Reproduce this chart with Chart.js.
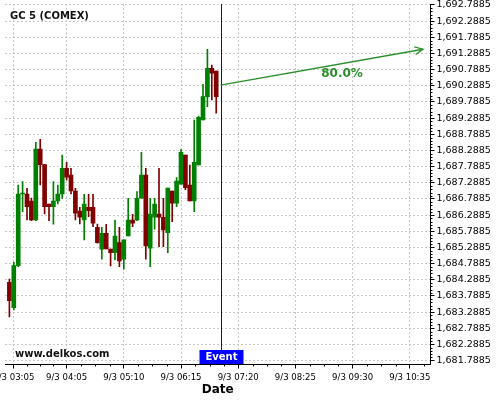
<!DOCTYPE html>
<html>
<head>
<meta charset="utf-8">
<script src="https://cdn.jsdelivr.net/npm/chart.js@4/dist/chart.umd.min.js"></script>
<style>
  html, body { margin: 0; padding: 0; background: #fff; }
</style>
</head>
<body>
<canvas id="c" width="500" height="400"></canvas>
<script>
// 5 min candles, 9/3
const times = ['03:00', '03:05', '03:10', '03:15', '03:20', '03:25', '03:30', '03:35', '03:40', '03:45',
  '03:50', '03:55', '04:00', '04:05', '04:10', '04:15', '04:20', '04:25', '04:30', '04:35',
  '04:40', '04:45', '04:50', '04:55', '05:00', '05:05', '05:10', '05:15', '05:20', '05:25',
  '05:30', '05:35', '05:40', '05:45', '05:50', '05:55', '06:00', '06:05', '06:10', '06:15',
  '06:20', '06:25', '06:30', '06:35', '06:40', '06:45', '06:50', '06:55'];
const opens = [1684.213, 1683.427, 1684.726, 1686.944, 1686.944, 1686.727, 1686.140, 1688.335, 1687.850, 1686.634,
  1686.551, 1686.727, 1686.944, 1687.738, 1687.531, 1687.036, 1686.418, 1686.140, 1686.532, 1686.532,
  1685.914, 1685.233, 1685.728, 1685.243, 1685.128, 1685.437, 1684.929, 1685.645, 1686.140, 1686.140,
  1686.811, 1687.531, 1685.264, 1686.223, 1686.325, 1686.223, 1685.747, 1687.036, 1686.656, 1687.244,
  1688.150, 1687.222, 1686.727, 1687.840, 1689.232, 1689.953, 1690.831, 1690.747];
const highs = [1684.315, 1684.832, 1687.222, 1687.324, 1687.120, 1686.820, 1688.543, 1688.635, 1687.850, 1686.634,
  1687.324, 1687.222, 1688.150, 1687.924, 1687.738, 1687.120, 1686.532, 1686.934, 1686.934, 1686.934,
  1686.016, 1685.914, 1686.007, 1685.243, 1686.140, 1685.914, 1685.525, 1686.811, 1686.316, 1687.015,
  1688.233, 1687.738, 1686.811, 1686.811, 1687.738, 1686.811, 1687.129, 1687.036, 1687.448, 1688.326,
  1688.150, 1687.840, 1689.232, 1689.350, 1690.336, 1691.418, 1690.933, 1690.747];
const lows = [1683.140, 1683.356, 1684.695, 1686.396, 1686.140, 1686.118, 1686.118, 1687.222, 1686.325, 1686.118,
  1686.007, 1686.634, 1686.810, 1687.377, 1686.944, 1686.140, 1686.016, 1685.521, 1686.241, 1685.932,
  1685.419, 1684.924, 1685.243, 1684.717, 1684.903, 1684.696, 1684.616, 1685.645, 1685.932, 1686.118,
  1686.811, 1684.924, 1684.696, 1685.852, 1685.314, 1685.314, 1685.129, 1686.087, 1686.551, 1687.244,
  1687.080, 1686.727, 1686.396, 1687.840, 1689.232, 1689.644, 1689.851, 1689.439];
const closes = [1683.644, 1684.726, 1686.944, 1686.975, 1686.551, 1686.140, 1688.335, 1687.850, 1686.551, 1686.551,
  1686.727, 1686.944, 1687.738, 1687.460, 1687.036, 1686.347, 1686.223, 1686.634, 1686.427, 1686.037,
  1685.437, 1685.728, 1685.243, 1685.128, 1685.645, 1684.876, 1685.525, 1686.140, 1686.037, 1686.811,
  1687.531, 1685.335, 1686.325, 1686.634, 1686.223, 1685.830, 1687.129, 1686.656, 1687.346, 1688.233,
  1687.139, 1686.727, 1687.924, 1689.316, 1689.953, 1690.831, 1690.676, 1689.953];

const xTickTimes = ['03:05', '04:05', '05:10', '06:15', '07:20', '08:25', '09:30', '10:35'];
const xTickLabels = ['9/3 03:05', '9/3 04:05', '9/3 05:10', '9/3 06:15', '9/3 07:20', '9/3 08:25', '9/3 09:30', '9/3 10:35'];
const yTicks = [1681.7885, 1682.2885, 1682.7885, 1683.2885, 1683.7885, 1684.2885, 1684.7885, 1685.2885,
  1685.7885, 1686.2885, 1686.7885, 1687.2885, 1687.7885, 1688.2885, 1688.7885, 1689.2885, 1689.7885,
  1690.2885, 1690.7885, 1691.2885, 1691.7885, 1692.2885, 1692.7885];

// event + forecast arrow
const eventTime = '07:00';
const arrowStart = 1690.31;
const arrowEndTime = '10:50';
const arrowEnd = 1691.42;
const arrowText = '80.0%';

const UP = '#008000';
const DOWN = '#800000';
const ARROW = '#2a8f2a';

const toMin = s => {
  const p = s.split(':');
  return Number(p[0]) * 60 + Number(p[1]);
};

const candleColors = opens.map((o, i) => (closes[i] >= o ? UP : DOWN));

// extra drawing: minor ticks, texts, event line, arrow
const overlay = {
  id: 'overlay',
  afterDraw(chart) {
    const { ctx, chartArea: a, scales: { x, y } } = chart;
    ctx.save();

    // minor ticks
    ctx.strokeStyle = '#000';
    ctx.lineWidth = 1;
    ctx.beginPath();
    for (let k = 0; k < yTicks.length - 1; k++) {
      for (let j = 1; j < 5; j++) {
        const py = Math.round(y.getPixelForValue(yTicks[k] + j * 0.1)) + 0.5;
        ctx.moveTo(a.right, py);
        ctx.lineTo(a.right + 2, py);
      }
    }
    const mins = xTickTimes.map(toMin);
    for (let k = -1; k < mins.length; k++) {
      const t0 = k < 0 ? mins[0] - (mins[1] - mins[0]) : mins[k];
      const t1 = k < 0 ? mins[0] : (mins[k + 1] || mins[k] + 65);
      for (let j = 1; j < 4; j++) {
        const px = Math.round(x.getPixelForValue(t0 + (t1 - t0) * j / 4)) + 0.5;
        if (px < a.left || px > a.right) continue;
        ctx.moveTo(px, a.bottom);
        ctx.lineTo(px, a.bottom + 2);
      }
    }
    ctx.stroke();

    // title + watermark
    ctx.fillStyle = '#111';
    ctx.font = 'bold 10px "DejaVu Sans"';
    ctx.textAlign = 'left';
    ctx.textBaseline = 'alphabetic';
    ctx.fillText('GC 5 (COMEX)', 10, 19);
    ctx.fillText('www.delkos.com', 15, 357);

    // event line + box
    const ex = Math.round(x.getPixelForValue(toMin(eventTime))) + 0.5;
    ctx.strokeStyle = '#0000ff';
    ctx.lineWidth = 1;
    ctx.beginPath();
    ctx.moveTo(ex, a.top);
    ctx.lineTo(ex, 350);
    ctx.stroke();
    ctx.fillStyle = '#0000ff';
    ctx.fillRect(ex - 22, 350, 44, 14);
    ctx.fillStyle = '#fff';
    ctx.textAlign = 'center';
    ctx.textBaseline = 'middle';
    ctx.fillText('Event', ex, 357.5);

    // arrow
    const x0 = x.getPixelForValue(toMin(eventTime));
    const y0 = y.getPixelForValue(arrowStart);
    const x1 = x.getPixelForValue(toMin(arrowEndTime));
    const y1 = y.getPixelForValue(arrowEnd);
    const ang = Math.atan2(y1 - y0, x1 - x0);
    ctx.strokeStyle = ARROW;
    ctx.lineWidth = 1.3;
    ctx.beginPath();
    ctx.moveTo(x0, y0);
    ctx.lineTo(x1, y1);
    ctx.moveTo(x1 - 9 * Math.cos(ang - 0.44), y1 - 9 * Math.sin(ang - 0.44));
    ctx.lineTo(x1, y1);
    ctx.lineTo(x1 - 9 * Math.cos(ang + 0.44), y1 - 9 * Math.sin(ang + 0.44));
    ctx.stroke();
    ctx.fillStyle = ARROW;
    ctx.font = 'bold 12px "DejaVu Sans"';
    ctx.fillText(arrowText, x0 + (x1 - x0) * 0.6, y0 + (y1 - y0) * 0.6 + 10);

    ctx.restore();
  }
};

new Chart(document.getElementById('c'), {
  type: 'bar',
  data: {
    datasets: [{
      // wicks
      data: times.map((t, i) => ({ x: toMin(t), y: [lows[i], highs[i]] })),
      backgroundColor: candleColors,
      barThickness: 1,
      grouped: false,
      borderWidth: 0
    }, {
      // bodies
      data: times.map((t, i) => ({ x: toMin(t), y: [opens[i], closes[i]] })),
      backgroundColor: candleColors,
      barThickness: 4,
      grouped: false,
      borderWidth: 0,
      minBarLength: 1
    }]
  },
  options: {
    responsive: false,
    animation: false,
    events: [],
    layout: { padding: { left: 5, top: 4, right: 0, bottom: 0 } },
    plugins: { legend: { display: false }, tooltip: { enabled: false } },
    scales: {
      x: {
        type: 'linear',
        min: 175,
        max: 658.5,
        offset: false,
        grid: { color: '#c8c8c8', offset: false, tickLength: 4, tickColor: '#000', tickBorderDash: [] },
        border: { color: '#000', width: 1, dash: [2, 2] },
        afterBuildTicks(scale) {
          scale.ticks = xTickTimes.map(t => ({ value: toMin(t) }));
        },
        afterFit(scale) {
          scale.height = 35.5;
          scale.paddingLeft = 0;
          scale.paddingRight = 0;
        },
        ticks: {
          autoSkip: false,
          maxRotation: 0,
          padding: 3,
          color: '#000',
          font: { family: '"DejaVu Sans Condensed", "DejaVu Sans"', size: 9.5 },
          callback: v => xTickLabels[xTickTimes.map(toMin).indexOf(v)]
        },
        title: {
          display: true,
          text: 'Date',
          color: '#000',
          font: { family: '"DejaVu Sans"', size: 12, weight: 'bold' },
          padding: { top: 0, bottom: 3 }
        }
      },
      y: {
        position: 'right',
        min: 1681.670,
        max: 1692.819,
        grid: { color: '#c8c8c8', tickLength: 4, tickColor: '#000', tickBorderDash: [] },
        border: { color: '#000', width: 1, dash: [2, 2] },
        afterBuildTicks(scale) {
          scale.ticks = yTicks.map(v => ({ value: v }));
        },
        afterFit(scale) {
          scale.width = 69.5;
          scale.paddingTop = 0;
          scale.paddingBottom = 0;
        },
        ticks: {
          padding: 2,
          color: '#000',
          font: { family: '"DejaVu Sans"', size: 9.5 },
          callback: v => v.toLocaleString('en-US', { minimumFractionDigits: 4, maximumFractionDigits: 4 })
        }
      }
    }
  },
  plugins: [overlay]
});
</script>
</body>
</html>
